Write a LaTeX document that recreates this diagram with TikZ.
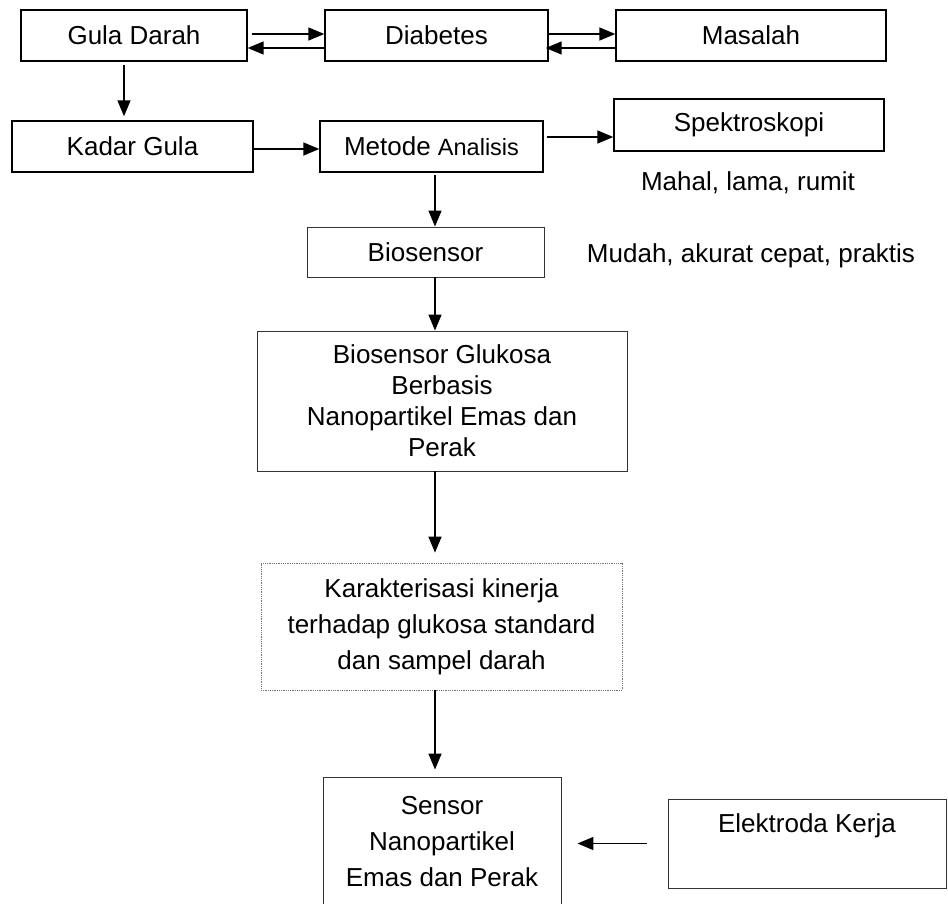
\documentclass[tikz,border=0pt]{standalone}
\usepackage{fontspec}
\setmainfont{Liberation Sans}
\usetikzlibrary{arrows.meta}
\usetikzlibrary{calc}

\begin{document}
\begin{tikzpicture}[x=1pt,y=-1pt,
    every node/.style={inner sep=0pt,align=center,font=\fontsize{26}{36}\selectfont},
    kotak/.style={draw,line width=1.4pt,minimum height=51pt},
    kotaktipis/.style={draw=black!80,line width=0.9pt},
    kotaktitik/.style={draw=black!55,line width=0.8pt,densely dotted},
    panah/.style={line width=1.5pt,-{Triangle[length=16pt,width=13pt]}}]
  \useasboundingbox (0,0) rectangle (948,904);
  \coordinate (jalur) at (435,0);

  \node at (134,35.5) [kotak,minimum width=226pt] (gula) {Gula Darah};
  \node at (436.5,35.5) [kotak,minimum width=223pt] (diabetes) {Diabetes};
  \node at (751,35.5) [kotak,minimum width=270pt] (masalah) {Masalah};

  \node at (132.5,146.5) [kotak,minimum width=241pt] (kadar) {Kadar Gula};
  \node at (431.5,146.5) [kotak,minimum width=223pt] (metode)
    {Metode {\fontsize{23.5}{30}\selectfont Analisis}};
  \node at (749,125) [kotak,minimum width=270pt,minimum height=52pt] (spektro) {Spektroskopi};
  \node at (748,183) (mahal) {Mahal, lama, rumit};
  \node at (751,256) (mudah) {Mudah, akurat cepat, praktis};

  \node at (425.5,252) [kotaktipis,minimum width=237pt,minimum height=50pt] (biosensor) {Biosensor};
  \node at (442,401) [kotaktipis,minimum width=370pt,minimum height=140pt,
    font=\fontsize{26}{31}\selectfont] (glukosa)
    {Biosensor Glukosa\\Berbasis\\Nanopartikel Emas dan\\Perak};
  \node at (441.5,626.5) [kotaktitik,minimum width=361pt,minimum height=127pt] (karakter)
    {Karakterisasi kinerja\\terhadap glukosa standard\\dan sampel darah};
  \node at (442,842) [kotaktipis,minimum width=238pt,minimum height=130pt] (sensor)
    {Sensor\\Nanopartikel\\Emas dan Perak};
  \node at (807,843.5) [kotaktipis,minimum width=278pt,minimum height=89pt,
    label={[anchor=center,yshift=-27pt]north:Elektroda Kerja}] (elektroda) {};

  \draw[panah] ([xshift=4pt,yshift=1.5pt]gula.east) -- ([yshift=1.5pt]diabetes.west);
  \draw[panah] ([yshift=-12.5pt]diabetes.west) -- ([yshift=-12.5pt]gula.east);
  \draw[panah] ([yshift=1.5pt]diabetes.east) -- ([yshift=1.5pt]masalah.west);
  \draw[panah] ([yshift=-12.5pt]masalah.west) -- ([xshift=-3pt,yshift=-12.5pt]diabetes.east);

  \draw[panah,shorten <=3pt,shorten >=4pt] ([xshift=-10pt]gula.south) -- ([xshift=-10pt]gula.south |- kadar.north);
  \draw[panah] ([yshift=-2.5pt]kadar.east) -- ([yshift=-2.5pt]kadar.east -| metode.west);
  \draw[panah,shorten <=3pt] ([yshift=9.5pt]metode.east) -- ([yshift=9.5pt]metode.east -| spektro.west);

  \draw[panah,shorten <=2pt] (metode.south -| jalur) -- (biosensor.north -| jalur);
  \draw[panah] (biosensor.south -| jalur) -- (glukosa.north -| jalur);
  \draw[panah,shorten >=10pt] (glukosa.south -| jalur) -- (karakter.north -| jalur);
  \draw[panah,shorten >=7pt] (karakter.south -| jalur) -- (sensor.north -| jalur);
  \draw[panah,shorten <=21pt,shorten >=16pt] (elektroda.west) -- (elektroda.west -| sensor.east);
\end{tikzpicture}
\end{document}
